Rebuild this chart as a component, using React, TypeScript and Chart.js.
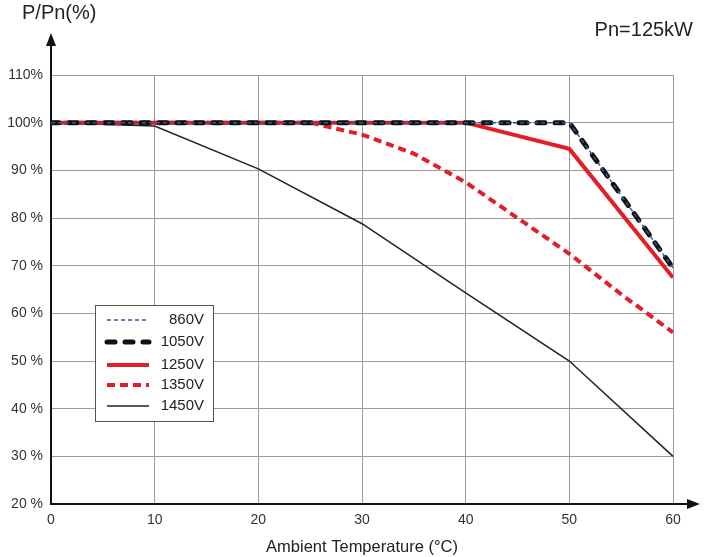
import { useEffect, useRef } from 'react';
import { Chart, registerables } from 'chart.js';

Chart.register(...registerables);

// Temperature points (°C) shared by most curves
const temps = [0, 10, 20, 30, 40, 50, 60];
const v860 = [100, 100, 100, 100, 100, 100, 69.5];
const v1050 = [100, 100, 100, 100, 100, 100, 69.5];
const v1250 = [100, 100, 100, 100, 100, 94.5, 67.5];
const v1450 = [100, 99.3, 90.3, 78.8, 64.3, 50, 30];

// 1350V curve bends more gradually, so it has more points
const temps1350 = [0, 10, 20, 25, 30, 35, 40, 45, 50, 55, 60];
const v1350 = [100, 100, 100, 100, 97.5, 93.5, 87.5, 80, 72.5, 64, 56];

const xTicks = [0, 10, 20, 30, 40, 50, 60];
const yTicks = [20, 30, 40, 50, 60, 70, 80, 90, 100, 110];
const yTickLabels = ['20 %', '30 %', '40 %', '50 %', '60 %', '70 %', '80 %', '90 %', '100%', '110%'];

const FONT = '"Liberation Sans", Arial, sans-serif';

const toPoints = (xs: number[], ys: number[]) => xs.map((x, i) => ({ x, y: ys[i] }));

// Axis arrows + boxed legend drawn on top of the plot
const decorPlugin = {
  id: 'decor',
  afterDraw(chart: any) {
    const { ctx, chartArea } = chart;
    const { left, top, right, bottom } = chartArea;
    ctx.save();
    ctx.strokeStyle = '#111';
    ctx.fillStyle = '#111';
    ctx.lineWidth = 2;
    // y arrow
    ctx.beginPath();
    ctx.moveTo(left, top);
    ctx.lineTo(left, top - 32);
    ctx.stroke();
    ctx.beginPath();
    ctx.moveTo(left, top - 42);
    ctx.lineTo(left - 5, top - 29);
    ctx.lineTo(left + 5, top - 29);
    ctx.closePath();
    ctx.fill();
    // x arrow
    ctx.beginPath();
    ctx.moveTo(right, bottom);
    ctx.lineTo(right + 16, bottom);
    ctx.stroke();
    ctx.beginPath();
    ctx.moveTo(right + 27, bottom);
    ctx.lineTo(right + 14, bottom - 5);
    ctx.lineTo(right + 14, bottom + 5);
    ctx.closePath();
    ctx.fill();

    // legend box
    const bx = left + 44;
    const by = top + 230;
    const bw = 118;
    const bh = 116;
    ctx.fillStyle = '#fff';
    ctx.fillRect(bx, by, bw, bh);
    ctx.strokeStyle = '#555';
    ctx.lineWidth = 1;
    ctx.strokeRect(bx + 0.5, by + 0.5, bw, bh);

    const rows = [15, 37, 60, 80, 101];
    chart.data.datasets.forEach((ds: any, i: number) => {
      const y = by + rows[i];
      ctx.beginPath();
      ctx.setLineDash(ds.borderDash || []);
      ctx.lineCap = ds.borderCapStyle || 'butt';
      ctx.strokeStyle = ds.borderColor;
      ctx.lineWidth = ds.borderWidth;
      ctx.moveTo(bx + 12, y);
      ctx.lineTo(bx + 54, y);
      ctx.stroke();
      ctx.setLineDash([]);
      ctx.lineCap = 'butt';
      ctx.fillStyle = '#222';
      ctx.font = `15px ${FONT}`;
      ctx.textAlign = 'right';
      ctx.textBaseline = 'middle';
      ctx.fillText(ds.label, bx + 109, y);
    });
    ctx.restore();
  },
};

function DeratingChart() {
  const canvasRef = useRef<HTMLCanvasElement | null>(null);
  const chartRef = useRef<Chart | null>(null);

  useEffect(() => {
    document.body.style.margin = '0';
    if (!canvasRef.current) return;
    if (chartRef.current) chartRef.current.destroy();

    chartRef.current = new Chart(canvasRef.current, {
      type: 'line',
      data: {
        datasets: [
          {
            label: '860V',
            data: toPoints(temps, v860),
            borderColor: '#2e5a9c',
            borderWidth: 1.5,
            borderDash: [4, 3],
            pointRadius: 0,
          },
          {
            label: '1050V',
            data: toPoints(temps, v1050),
            borderColor: '#111',
            borderWidth: 5,
            borderDash: [8, 10],
            borderCapStyle: 'round',
            pointRadius: 0,
          },
          {
            label: '1250V',
            data: toPoints(temps, v1250),
            borderColor: '#e31e26',
            borderWidth: 4,
            pointRadius: 0,
          },
          {
            label: '1350V',
            data: toPoints(temps1350, v1350),
            borderColor: '#e31e26',
            borderWidth: 4,
            borderDash: [8, 5],
            pointRadius: 0,
          },
          {
            label: '1450V',
            data: toPoints(temps, v1450),
            borderColor: '#222',
            borderWidth: 1.5,
            pointRadius: 0,
          },
        ],
      },
      options: {
        responsive: true,
        maintainAspectRatio: false,
        animation: false,
        layout: { padding: { top: 75, right: 32, left: 0, bottom: 0 } },
        plugins: {
          legend: { display: false },
          tooltip: { enabled: false },
        },
        scales: {
          x: {
            type: 'linear',
            min: 0,
            max: 60,
            afterFit: (scale: any) => {
              scale.height = 53;
            },
            afterBuildTicks: (scale: any) => {
              scale.ticks = xTicks.map((v) => ({ value: v }));
            },
            ticks: {
              color: '#333',
              font: { family: FONT, size: 14 },
              padding: 8,
            },
            grid: { color: '#9a9a9a', lineWidth: 1, drawTicks: false },
            border: { color: '#111', width: 2 },
            title: {
              display: true,
              text: 'Ambient Temperature (°C)',
              color: '#222',
              font: { family: FONT, size: 16.5 },
              padding: { top: 4, bottom: 0 },
            },
          },
          y: {
            min: 20,
            max: 110,
            afterFit: (scale: any) => {
              scale.width = 51;
            },
            afterBuildTicks: (scale: any) => {
              scale.ticks = yTicks.map((v) => ({ value: v }));
            },
            ticks: {
              color: '#333',
              font: { family: FONT, size: 14 },
              padding: 8,
              callback: (value: any) => yTickLabels[yTicks.indexOf(Number(value))],
            },
            grid: { color: '#9a9a9a', lineWidth: 1, drawTicks: false },
            border: { color: '#111', width: 2 },
          },
        },
      },
      plugins: [decorPlugin],
    } as any);

    return () => {
      if (chartRef.current) {
        chartRef.current.destroy();
        chartRef.current = null;
      }
    };
  }, []);

  return (
    <div style={{ position: 'relative', width: 705, height: 557, background: '#fff', fontFamily: FONT }}>
      <canvas ref={canvasRef} />
      <div style={{ position: 'absolute', left: 22, top: 1, fontSize: 20, color: '#222' }}>P/Pn(%)</div>
      <div style={{ position: 'absolute', right: 12, top: 18, fontSize: 20, color: '#222' }}>Pn=125kW</div>
    </div>
  );
}

export default function App() {
  return <DeratingChart />;
}
